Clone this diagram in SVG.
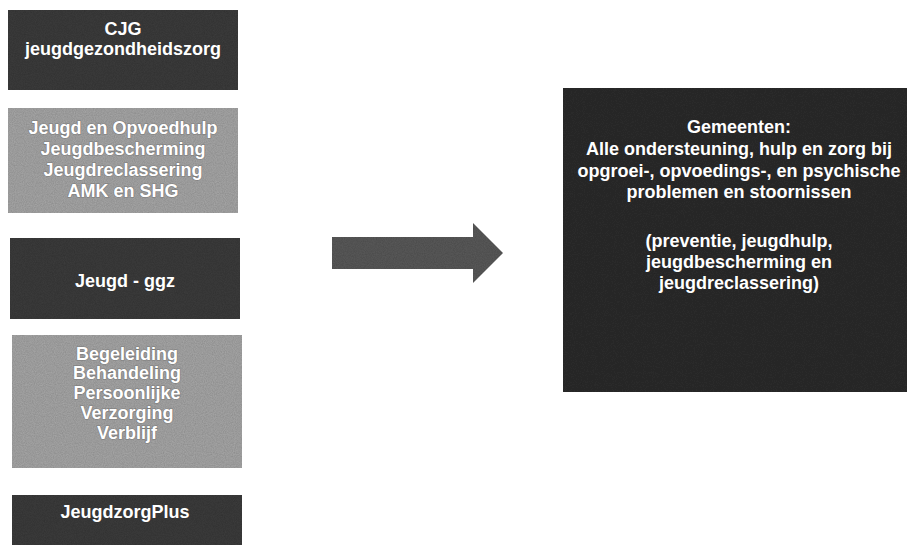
<svg xmlns="http://www.w3.org/2000/svg" width="907" height="547" viewBox="0 0 907 547">
<defs>
<filter id="grain" x="0" y="0" width="100%" height="100%">
<feTurbulence type="fractalNoise" baseFrequency="0.9" numOctaves="2" seed="3" result="n"/>
<feColorMatrix in="n" type="matrix" values="0 0 0 0 0  0 0 0 0 0  0 0 0 0 0  0 0 0 0.35 0" result="dark"/>
<feComposite in="dark" in2="SourceGraphic" operator="atop"/>
</filter>
<style>
.dark{fill:#3c3c3c;}
.darker{fill:#2c2c2c;}
.light{fill:#a8a8a8;}
.arrow{fill:#5a5a5a;}
text{font-family:"Liberation Sans",Arial,sans-serif;font-weight:bold;font-size:18px;fill:#ffffff;text-anchor:middle;}
.lt{stroke:#7a7a7a;stroke-width:1.2px;paint-order:stroke;}
</style>
</defs>
<rect width="907" height="547" fill="#ffffff"/>
<g id="node-cjg">
<rect class="dark" x="8" y="10" width="230" height="80" filter="url(#grain)"/>
<text x="123" y="35">CJG</text>
<text x="123" y="55">jeugdgezondheidszorg</text>
</g>
<g id="node-jeugdzorg">
<rect class="light" x="8" y="108" width="230" height="105" filter="url(#grain)"/>
<text class="lt" x="123" y="134">Jeugd en Opvoedhulp</text>
<text class="lt" x="123" y="155">Jeugdbescherming</text>
<text class="lt" x="123" y="176">Jeugdreclassering</text>
<text class="lt" x="123" y="197">AMK en SHG</text>
</g>
<g id="node-ggz">
<rect class="dark" x="10" y="238" width="230" height="81" filter="url(#grain)"/>
<text x="125" y="287">Jeugd - ggz</text>
</g>
<g id="node-awbz">
<rect class="light" x="12" y="335" width="230" height="133" filter="url(#grain)"/>
<text class="lt" x="127" y="360">Begeleiding</text>
<text class="lt" x="127" y="379">Behandeling</text>
<text class="lt" x="127" y="399">Persoonlijke</text>
<text class="lt" x="127" y="419">Verzorging</text>
<text class="lt" x="127" y="439">Verblijf</text>
</g>
<g id="node-plus">
<rect class="dark" x="12" y="495" width="230" height="50" filter="url(#grain)"/>
<text x="125" y="518">JeugdzorgPlus</text>
</g>
<g id="connectors">
<polygon class="arrow" points="332,237 473,237 473,223 503,253 473,283 473,269 332,269" filter="url(#grain)"/>
</g>
<g id="node-gemeenten">
<rect class="darker" x="563" y="88" width="344" height="304" filter="url(#grain)"/>
<text x="739" y="133">Gemeenten:</text>
<text x="739" y="155">Alle ondersteuning, hulp en zorg bij</text>
<text x="739" y="177">opgroei-, opvoedings-, en psychische</text>
<text x="739" y="198">problemen en stoornissen</text>
<text x="739" y="247">(preventie, jeugdhulp,</text>
<text x="739" y="268">jeugdbescherming en</text>
<text x="739" y="289">jeugdreclassering)</text>
</g>
</svg>
